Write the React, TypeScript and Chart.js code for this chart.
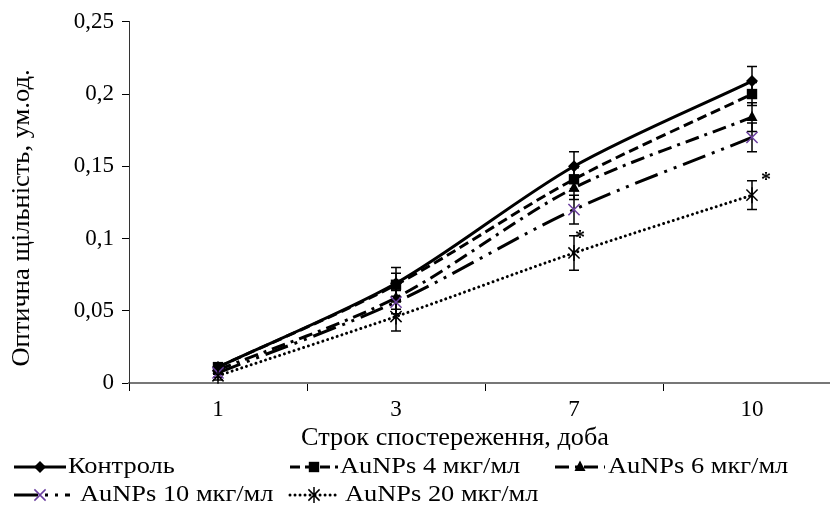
import React, { useEffect, useRef } from "react";
import { Chart, registerables } from "chart.js";

Chart.register(...registerables);

// ---- data ----
const days = ["1", "3", "7", "10"];
const yTickValues = [0, 0.05, 0.1, 0.15, 0.2, 0.25];

const controlValues = [0.011, 0.069, 0.15, 0.209];
const au4Values = [0.011, 0.068, 0.141, 0.2];
const au6Values = [0.009, 0.059, 0.135, 0.184];
const au10Values = [0.007, 0.056, 0.12, 0.17];
const au20Values = [0.005, 0.046, 0.09, 0.13];

const controlErr = [0.003, 0.011, 0.01, 0.01];
const au4Err = [0.003, 0.008, 0.008, 0.008];
const au6Err = [0.003, 0.008, 0.008, 0.01];
const au10Err = [0.003, 0.008, 0.01, 0.01];
const au20Err = [0.003, 0.01, 0.012, 0.01];

const au20Significant = [false, false, true, true];

const seriesNames = [
  "Контроль",
  "AuNPs 4 мкг/мл",
  "AuNPs 6 мкг/мл",
  "AuNPs 10 мкг/мл",
  "AuNPs 20 мкг/мл",
];

const xTitle = "Строк спостереження, доба";
const yTitle = "Оптична щільність, ум.од.";

const FONT = "'Liberation Serif', 'Times New Roman', serif";
const PURPLE = "#6b3fa0";

type Style = {
  dash: number[];
  cap: CanvasLineCap;
  point: string;
  radius: number;
  pointColor: string;
};

const styles: Style[] = [
  { dash: [], cap: "butt", point: "rectRot", radius: 6, pointColor: "#000" },
  { dash: [10, 5], cap: "butt", point: "rect", radius: 6.5, pointColor: "#000" },
  { dash: [14, 6, 3, 6], cap: "butt", point: "triangle", radius: 6.5, pointColor: "#000" },
  { dash: [24, 7, 3, 7, 3, 7], cap: "butt", point: "crossRot", radius: 8, pointColor: PURPLE },
  { dash: [0.01, 5], cap: "round", point: "star", radius: 8, pointColor: "#000" },
];

const valueSets = [controlValues, au4Values, au6Values, au10Values, au20Values];
const errSets = [controlErr, au4Err, au6Err, au10Err, au20Err];

function drawMarker(ctx: CanvasRenderingContext2D, style: string, x: number, y: number, r: number, color: string) {
  ctx.save();
  ctx.fillStyle = color;
  ctx.strokeStyle = color;
  ctx.lineWidth = 1.5;
  ctx.setLineDash([]);
  ctx.beginPath();
  if (style === "rectRot") {
    ctx.moveTo(x, y - r);
    ctx.lineTo(x + r, y);
    ctx.lineTo(x, y + r);
    ctx.lineTo(x - r, y);
    ctx.closePath();
    ctx.fill();
  } else if (style === "rect") {
    ctx.rect(x - r * 0.8, y - r * 0.8, r * 1.6, r * 1.6);
    ctx.fill();
  } else if (style === "triangle") {
    ctx.moveTo(x, y - r);
    ctx.lineTo(x + r * 0.85, y + r * 0.6);
    ctx.lineTo(x - r * 0.85, y + r * 0.6);
    ctx.closePath();
    ctx.fill();
  } else if (style === "crossRot") {
    ctx.moveTo(x - r * 0.7, y - r * 0.7);
    ctx.lineTo(x + r * 0.7, y + r * 0.7);
    ctx.moveTo(x + r * 0.7, y - r * 0.7);
    ctx.lineTo(x - r * 0.7, y + r * 0.7);
    ctx.stroke();
  } else if (style === "star") {
    ctx.moveTo(x - r * 0.7, y - r * 0.7);
    ctx.lineTo(x + r * 0.7, y + r * 0.7);
    ctx.moveTo(x + r * 0.7, y - r * 0.7);
    ctx.lineTo(x - r * 0.7, y + r * 0.7);
    ctx.moveTo(x, y - r);
    ctx.lineTo(x, y + r);
    ctx.stroke();
  }
  ctx.restore();
}

function stretchedText(ctx: CanvasRenderingContext2D, text: string, x: number, y: number, sx: number, align: CanvasTextAlign) {
  ctx.save();
  ctx.translate(x, y);
  ctx.scale(sx, 1);
  ctx.textAlign = align;
  ctx.fillText(text, 0, 0);
  ctx.restore();
}

const errorBarPlugin = {
  id: "errorBars",
  afterDatasetsDraw(chart: any) {
    const ctx: CanvasRenderingContext2D = chart.ctx;
    const yScale = chart.scales.y;
    ctx.save();
    ctx.strokeStyle = "#000";
    ctx.lineWidth = 1.5;
    ctx.setLineDash([]);
    chart.data.datasets.forEach((ds: any, di: number) => {
      const meta = chart.getDatasetMeta(di);
      const errs = errSets[di];
      meta.data.forEach((pt: any, i: number) => {
        const v = ds.data[i];
        const e = errs[i];
        const yTop = yScale.getPixelForValue(v + e);
        const yBot = yScale.getPixelForValue(v - e);
        const x = pt.x;
        ctx.beginPath();
        ctx.moveTo(x, yTop);
        ctx.lineTo(x, yBot);
        ctx.moveTo(x - 5, yTop);
        ctx.lineTo(x + 5, yTop);
        ctx.moveTo(x - 5, yBot);
        ctx.lineTo(x + 5, yBot);
        ctx.stroke();
      });
    });
    // significance marks for AuNPs 20
    const meta20 = chart.getDatasetMeta(4);
    ctx.fillStyle = "#000";
    ctx.font = `bold 20px ${FONT}`;
    ctx.textAlign = "left";
    ctx.textBaseline = "middle";
    au20Significant.forEach((s, i) => {
      if (!s) return;
      const x = meta20.data[i].x;
      const y = yScale.getPixelForValue(au20Values[i] + au20Err[i]);
      ctx.fillText("*", x + (i === 3 ? 9 : 1), y + (i === 3 ? 0 : 3));
    });
    ctx.restore();
    // markers on top
    chart.data.datasets.forEach((ds: any, di: number) => {
      const meta = chart.getDatasetMeta(di);
      const st = styles[di];
      meta.data.forEach((pt: any) => {
        drawMarker(ctx, st.point, pt.x, pt.y, st.radius, st.pointColor);
      });
    });
  },
};

const decorPlugin = {
  id: "decor",
  afterDraw(chart: any) {
    const ctx: CanvasRenderingContext2D = chart.ctx;
    ctx.save();
    ctx.fillStyle = "#000";
    ctx.font = `25px ${FONT}`;
    ctx.textBaseline = "middle";
    stretchedText(ctx, xTitle, 455, 438, 1.05, "center");
    ctx.save();
    ctx.translate(22, 218);
    ctx.rotate(-Math.PI / 2);
    stretchedText(ctx, yTitle, 0, 0, 1.06, "center");
    ctx.restore();

    // legend
    ctx.font = `24px ${FONT}`;
    const items = [
      { x1: 14, x2: 66, tx: 68, y: 467, mark: 40 },
      { x1: 290, x2: 338, tx: 340, y: 467, mark: 314 },
      { x1: 555, x2: 605, tx: 608, y: 467, mark: 580 },
      { x1: 14, x2: 70, tx: 80, y: 495, mark: 40 },
      { x1: 290, x2: 338, tx: 345, y: 495, mark: 314 },
    ];
    items.forEach((it, i) => {
      const st = styles[i];
      ctx.save();
      ctx.strokeStyle = "#000";
      ctx.lineWidth = 3;
      ctx.lineCap = st.cap;
      ctx.setLineDash(st.dash);
      ctx.beginPath();
      ctx.moveTo(it.x1, it.y);
      ctx.lineTo(it.x2, it.y);
      ctx.stroke();
      ctx.restore();
      drawMarker(ctx, st.point, it.mark, it.y, st.radius, st.pointColor);
      ctx.fillStyle = "#000";
      stretchedText(ctx, seriesNames[i], it.tx, it.y, 1.1, "left");
    });
    ctx.restore();
  },
};

export default function App() {
  const ref = useRef<HTMLCanvasElement | null>(null);
  useEffect(() => {
    if (!ref.current) return;
    const chart = new Chart(ref.current, {
      type: "line",
      data: {
        labels: days,
        datasets: valueSets.map((vals, i) => ({
          label: seriesNames[i],
          data: vals,
          borderColor: "#000",
          borderWidth: 3,
          borderDash: styles[i].dash,
          borderCapStyle: styles[i].cap,
          tension: 0.3,
          pointRadius: 0,
          fill: false,
        })),
      },
      options: {
        animation: false,
        responsive: false,
        devicePixelRatio: 1,
        layout: { padding: { left: 0, top: 21, right: 9, bottom: 0 } },
        plugins: {
          legend: { display: false },
          tooltip: { enabled: false },
        },
        scales: {
          x: {
            type: "category",
            offset: true,
            grid: {
              display: true,
              offset: true,
              drawOnChartArea: false,
              drawTicks: true,
              tickLength: 8,
              color: "#000",
              lineWidth: 1,
            },
            border: { display: true, color: "#777", width: 2 },
            ticks: {
              color: "#000",
              font: { family: FONT, size: 23 },
              padding: 5,
              maxRotation: 0,
            },
            afterFit(scale: any) {
              scale.height = 130;
            },
          },
          y: {
            min: 0,
            max: 0.25,
            afterBuildTicks(scale: any) {
              scale.ticks = yTickValues.map((v) => ({ value: v }));
            },
            grid: {
              display: true,
              drawOnChartArea: false,
              drawTicks: true,
              tickLength: 7,
              color: "#000",
              lineWidth: 1,
            },
            border: { display: true, color: "#333", width: 1 },
            ticks: {
              color: "#000",
              font: { family: FONT, size: 23 },
              padding: 8,
              callback: (v: any) => String(Math.round(Number(v) * 100) / 100).replace(".", ","),
            },
            afterFit(scale: any) {
              scale.width = 129;
            },
          },
        },
      },
      plugins: [errorBarPlugin, decorPlugin],
    });
    return () => chart.destroy();
  }, []);
  return (
    <div
      style={{
        position: "absolute",
        left: 0,
        top: 0,
        width: 830,
        height: 513,
        overflow: "hidden",
        background: "#fff",
      }}
    >
      <canvas ref={ref} width={850} height={513} style={{ display: "block" }} />
    </div>
  );
}
